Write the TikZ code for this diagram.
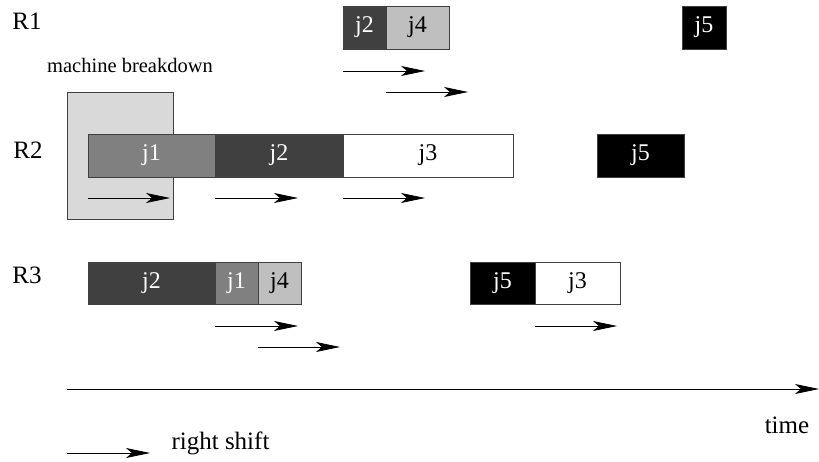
\documentclass[tikz,border=0pt]{standalone}
\usepackage{fontspec}
\setmainfont{Liberation Serif}
\usetikzlibrary{arrows.meta, positioning}

\tikzset{
  job/.style={draw=black!75, line width=0.6pt, inner sep=0pt, outer sep=0pt,
    minimum height=43pt, font=\fontsize{24}{28}\selectfont},
  shiftarr/.style={-{Stealth[length=24pt,width=10pt,inset=6pt]}, line width=0.8pt},
  lbl/.style={font=\fontsize{25}{30}\selectfont},
}

\begin{document}
\begin{tikzpicture}[x=1pt, y=-1pt, node distance=0pt]
  \useasboundingbox (0,0) rectangle (819,462);

  % machine breakdown
  \node[draw=black!75, fill=black!15, line width=0.6pt, inner sep=0pt,
        minimum width=106pt, minimum height=127pt, anchor=north west] (down) at (67,92) {};
  \node[font=\fontsize{20.5}{24}\selectfont] (downtxt) at (130,65) {machine breakdown};

  % resources
  \node[lbl] (R1) at (27,21) {R1};
  \node[lbl] (R2) at (28,150) {R2};
  \node[lbl] (R3) at (27,275) {R3};

  % R1
  \node[job, fill=black!75, text=white, minimum width=43pt, anchor=north west] (r1j2) at (343,6) {j2};
  \node[job, fill=black!25, minimum width=63pt, right=of r1j2] (r1j4) {j4};
  \node[job, fill=black, text=white, minimum width=44pt, anchor=north west] (r1j5) at (682,6) {j5};

  % R2
  \node[job, fill=black!50, text=white, minimum width=127pt, anchor=north west] (r2j1) at (88,134) {j1};
  \node[job, fill=black!75, text=white, minimum width=128pt, right=of r2j1] (r2j2) {j2};
  \node[job, fill=white, minimum width=170pt, right=of r2j2] (r2j3) {j3};
  \node[job, fill=black, text=white, minimum width=87pt, anchor=north west] (r2j5) at (597,134) {j5};

  % R3
  \node[job, fill=black!75, text=white, minimum width=127pt, minimum height=42pt, anchor=north west] (r3j2) at (88,262) {j2};
  \node[job, fill=black!50, text=white, minimum width=43pt, minimum height=42pt, right=of r3j2] (r3j1) {j1};
  \node[job, fill=black!25, minimum width=43pt, minimum height=42pt, right=of r3j1] (r3j4) {j4};
  \node[job, fill=black, text=white, minimum width=65pt, minimum height=42pt, anchor=north west] (r3j5) at (470,262) {j5};
  \node[job, fill=white, minimum width=85pt, minimum height=42pt, right=of r3j5] (r3j3) {j3};

  % right shifts
  \draw[shiftarr] (r1j2.south west) ++(0,22) -- ++(82,0);
  \draw[shiftarr] (r1j4.south west) ++(0,43) -- ++(82,0);
  \draw[shiftarr] (r2j1.south west) ++(0,21) -- ++(82,0);
  \draw[shiftarr] (r2j2.south west) ++(0,21) -- ++(83,0);
  \draw[shiftarr] (r2j3.south west) ++(0,21) -- ++(82,0);
  \draw[shiftarr] (r3j1.south west) ++(0,22) -- ++(83,0);
  \draw[shiftarr] (r3j4.south west) ++(0,43) -- ++(82,0);
  \draw[shiftarr] (r3j3.south west) ++(0,22) -- ++(82,0);

  % time axis
  \coordinate (t0) at (67,389);
  \coordinate (t1) at (819,389);
  \draw[shiftarr] (t0) -- (t1);
  \node[lbl] (time) at (787,425) {time};

  % legend
  \coordinate (l0) at (67,453);
  \coordinate (l1) at (150,453);
  \draw[shiftarr] (l0) -- (l1);
  \node[lbl, anchor=west] (legend) at (168,443) {right shift};
\end{tikzpicture}
\end{document}
